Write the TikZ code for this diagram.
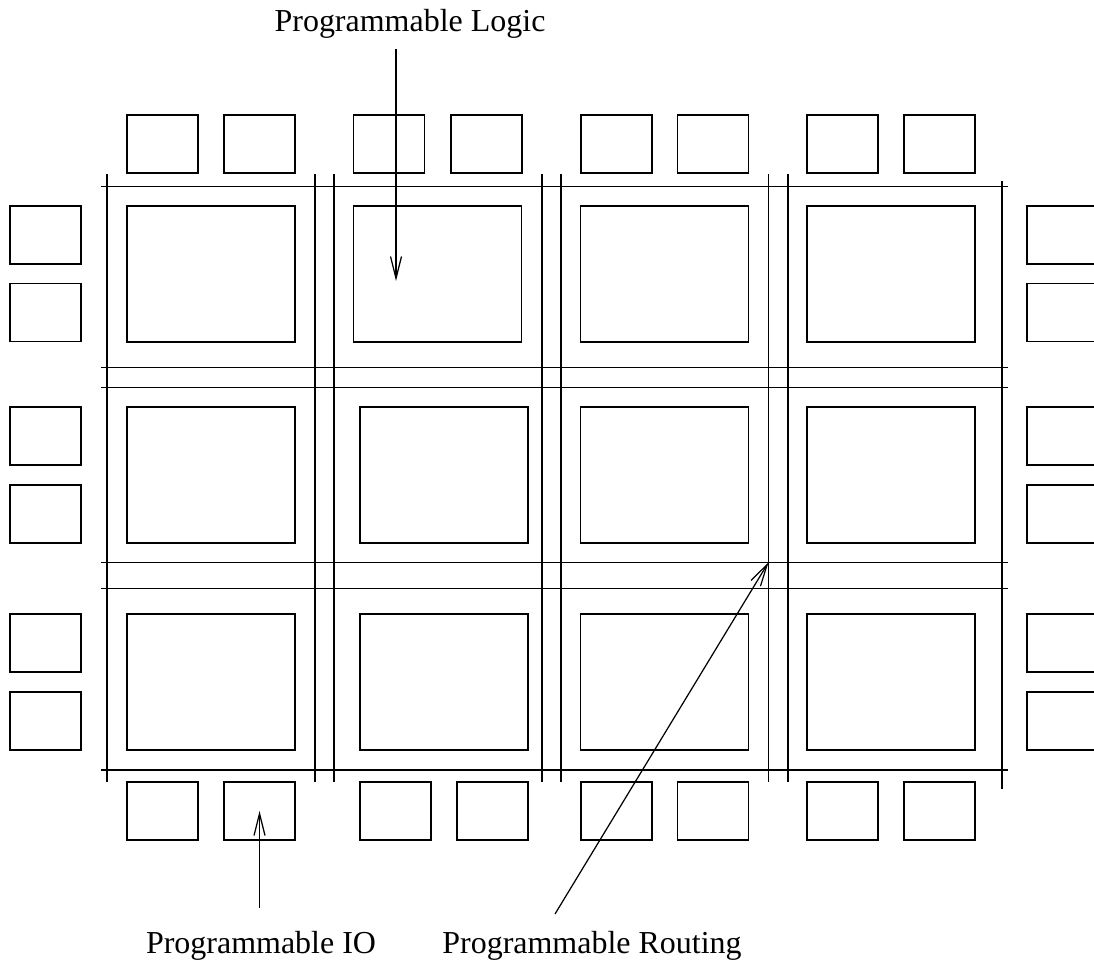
\documentclass[tikz,border=0pt]{standalone}
\usepackage{fontspec}
\setmainfont{Liberation Serif}
\usetikzlibrary{arrows.meta,positioning}

\begin{document}
\begin{tikzpicture}[x=0.02cm, y=-0.02cm,
  clb/.style={rectangle, draw, line width=0.7pt, minimum width=3.36cm, minimum height=2.72cm, inner sep=0pt},
  iopad/.style={rectangle, draw, line width=0.7pt, minimum width=1.42cm, minimum height=1.16cm, inner sep=0pt},
  wire/.style={line width=0.7pt},
  lbl/.style={font=\fontsize{18.2}{22}\selectfont, anchor=base, inner sep=0pt},
  arr/.style={-{Straight Barb[length=4.4mm, width=2.2mm]}, line width=0.7pt}
]
  \useasboundingbox (0,0) rectangle (1094,963);

  % routing channels
  \foreach \y in {186.7,367.7,387.3,562.3,588.3,770}
    \draw[wire] (101,\y) -- (1008,\y);
  \foreach \x in {107,315,334,542,561,768.5,788}
    \draw[wire] (\x,174) -- (\x,782);
  \draw[wire] (1002,181) -- (1002,789);

  % logic blocks
  \foreach \c/\x in {1/211,2/437.5,3/664.5,4/891}
    \node[clb] (clb1\c) at (\x,274) {};
  \foreach \r/\y in {2/475,3/682}
    \foreach \c/\x in {1/211,2/444,3/664.5,4/891}
      \node[clb] (clb\r\c) at (\x,\y) {};

  % io pads
  \foreach \i/\x in {1/162.5,2/259.5,3/389,4/486.5,5/616.5,6/713,7/842.5,8/939.5}
    \node[iopad] (top\i) at (\x,144) {};
  \foreach \i/\x in {1/162.5,2/259.5,3/395.5,4/492.5,5/616.5,6/713,7/842.5,8/939.5}
    \node[iopad] (bot\i) at (\x,811) {};
  \foreach \i/\y in {1/235,2/312.5,3/436,4/514,5/643,6/721} {
    \node[iopad] (left\i) at (45.5,\y) {};
    \node[iopad] (right\i) at (1062.5,\y) {};
  }

  % labels
  \node[lbl] (plogic) at (410,32) {Programmable Logic};
  \node[lbl] (pio) at (261,953) {Programmable IO};
  \node[lbl] (prouting) at (592,953) {Programmable Routing};

  \coordinate (logictail) at (396,49);
  \coordinate (logictip) at (396,281);
  \coordinate (iotail) at (bot2 |- 0,908);
  \coordinate (routetail) at (555,914);
  \coordinate (xing) at (768.5,562.3);

  \draw[arr] (logictail) -- (logictip);
  \draw[arr] (iotail) -- (bot2.center);
  \draw[arr] (routetail) -- (xing);
\end{tikzpicture}
\end{document}
